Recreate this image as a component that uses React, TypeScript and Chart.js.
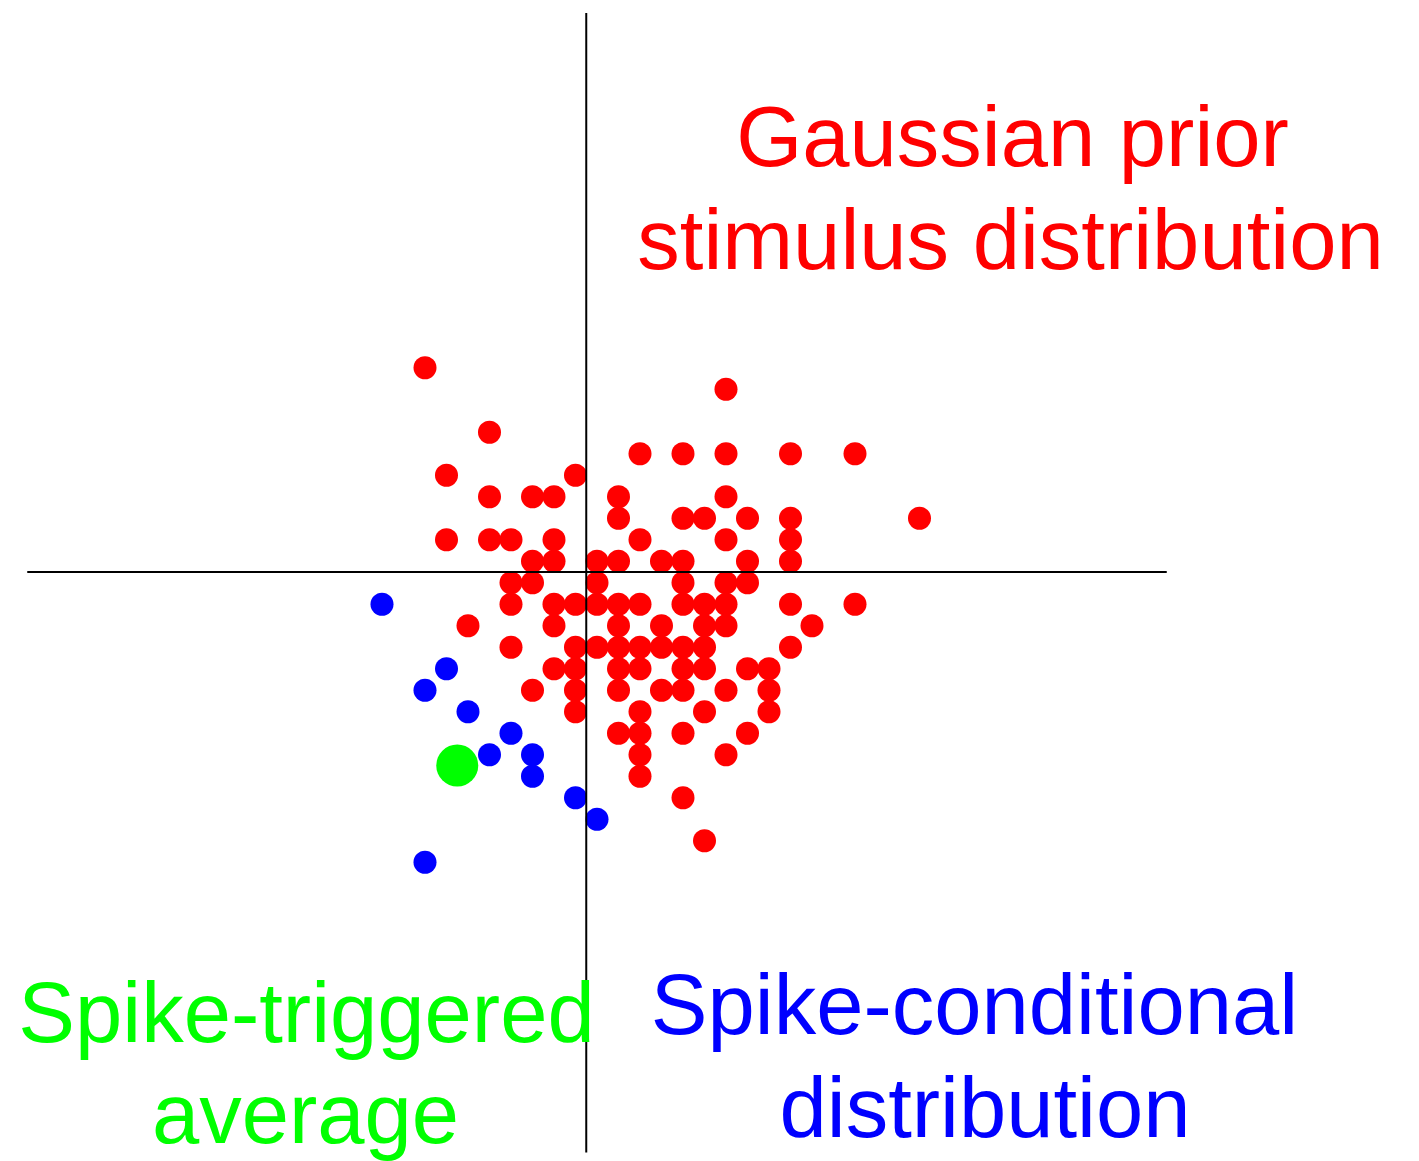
import React, { useEffect, useRef } from "react";
import { Chart, registerables } from "chart.js";

Chart.register(...registerables);

// ---- data (grid units) ----
const redPoints: [number, number][] = [
  [-7.5, 9.5],
  [6.5, 8.5],
  [-4.5, 6.5],
  [2.5, 5.5], [4.5, 5.5], [6.5, 5.5], [9.5, 5.5], [12.5, 5.5],
  [-6.5, 4.5], [-0.5, 4.5],
  [-4.5, 3.5], [-2.5, 3.5], [-1.5, 3.5], [1.5, 3.5], [6.5, 3.5],
  [1.5, 2.5], [4.5, 2.5], [5.5, 2.5], [7.5, 2.5], [9.5, 2.5], [15.5, 2.5],
  [-6.5, 1.5], [-4.5, 1.5], [-3.5, 1.5], [-1.5, 1.5], [2.5, 1.5], [6.5, 1.5], [9.5, 1.5],
  [-2.5, 0.5], [-1.5, 0.5], [0.5, 0.5], [1.5, 0.5], [3.5, 0.5], [4.5, 0.5], [7.5, 0.5], [9.5, 0.5],
  [-3.5, -0.5], [-2.5, -0.5], [0.5, -0.5], [4.5, -0.5], [6.5, -0.5], [7.5, -0.5],
  [-3.5, -1.5], [-1.5, -1.5], [-0.5, -1.5], [0.5, -1.5], [1.5, -1.5], [2.5, -1.5], [4.5, -1.5], [5.5, -1.5], [6.5, -1.5], [9.5, -1.5], [12.5, -1.5],
  [-5.5, -2.5], [-1.5, -2.5], [1.5, -2.5], [3.5, -2.5], [5.5, -2.5], [6.5, -2.5], [10.5, -2.5],
  [-3.5, -3.5], [-0.5, -3.5], [0.5, -3.5], [1.5, -3.5], [2.5, -3.5], [3.5, -3.5], [4.5, -3.5], [5.5, -3.5], [9.5, -3.5],
  [-1.5, -4.5], [-0.5, -4.5], [1.5, -4.5], [2.5, -4.5], [4.5, -4.5], [5.5, -4.5], [7.5, -4.5], [8.5, -4.5],
  [-2.5, -5.5], [-0.5, -5.5], [1.5, -5.5], [3.5, -5.5], [4.5, -5.5], [6.5, -5.5], [8.5, -5.5],
  [-0.5, -6.5], [2.5, -6.5], [5.5, -6.5], [8.5, -6.5],
  [1.5, -7.5], [2.5, -7.5], [4.5, -7.5], [7.5, -7.5],
  [2.5, -8.5], [6.5, -8.5],
  [2.5, -9.5],
  [4.5, -10.5],
  [5.5, -12.5],
];

const bluePoints: [number, number][] = [
  [-9.5, -1.5],
  [-6.5, -4.5],
  [-7.5, -5.5],
  [-5.5, -6.5],
  [-3.5, -7.5],
  [-4.5, -8.5], [-2.5, -8.5],
  [-2.5, -9.5],
  [-0.5, -10.5],
  [0.5, -11.5],
  [-7.5, -13.5],
];

const greenPoints: [number, number][] = [[-6, -9]];

const axisXExtent = [-26, 27];
const axisYExtent = [-27, 26];

const labelsRed = ["Gaussian prior", "stimulus distribution"];
const labelsBlue = ["Spike-conditional", "distribution"];
const labelsGreen = ["Spike-triggered", "average"];

// ---- layout / style ----
const W = 1419;
const H = 1161;
const UNIT = 21.5;
const ORIGIN_X = 586.25;
const ORIGIN_Y = 572;

const RED = "#ff0000";
const BLUE = "#0000ff";
const GREEN = "#00ff00";

const FONT = "'Liberation Sans', Arial, Helvetica, sans-serif";
const FONT_SIZE = 85;
const LINE_H = 103;
const BASELINE_OFFSET = 81; // baseline distance from top of a line box

type Lbl = { text: string; color: string; cx: number; baseline: number };
const labelItems: Lbl[] = [
  { text: labelsRed[0], color: RED, cx: 1012.5, baseline: 166 },
  { text: labelsRed[1], color: RED, cx: 1010.5, baseline: 269 },
  { text: labelsBlue[0], color: BLUE, cx: 974.5, baseline: 1034 },
  { text: labelsBlue[1], color: BLUE, cx: 985, baseline: 1137 },
  { text: labelsGreen[0], color: GREEN, cx: 306.5, baseline: 1042 },
  { text: labelsGreen[1], color: GREEN, cx: 305.5, baseline: 1143 },
];

const toXY = (p: [number, number]) => ({ x: p[0], y: p[1] });

export default function App() {
  const canvasRef = useRef<HTMLCanvasElement | null>(null);

  useEffect(() => {
    const canvas = canvasRef.current;
    if (!canvas) return;
    const chart = new Chart(canvas, {
      type: "scatter",
      data: {
        datasets: [
          {
            label: "x-axis",
            data: axisXExtent.map((x) => ({ x, y: 0 })),
            showLine: true,
            borderColor: "#000000",
            borderWidth: 2,
            pointRadius: 0,
            pointHoverRadius: 0,
            fill: false,
          } as any,
          {
            label: "y-axis",
            data: axisYExtent.map((y) => ({ x: 0, y })),
            showLine: true,
            borderColor: "#000000",
            borderWidth: 2,
            pointRadius: 0,
            pointHoverRadius: 0,
            fill: false,
          } as any,
          {
            label: "green",
            data: greenPoints.map(toXY),
            backgroundColor: GREEN,
            pointBackgroundColor: GREEN,
            pointBorderWidth: 0,
            borderWidth: 0,
            pointRadius: 21,
            pointHoverRadius: 21,
          } as any,
          {
            label: "blue",
            data: bluePoints.map(toXY),
            backgroundColor: BLUE,
            pointBackgroundColor: BLUE,
            pointBorderWidth: 0,
            borderWidth: 0,
            pointRadius: 11.5,
            pointHoverRadius: 11.5,
          } as any,
          {
            label: "red",
            data: redPoints.map(toXY),
            backgroundColor: RED,
            pointBackgroundColor: RED,
            pointBorderWidth: 0,
            borderWidth: 0,
            pointRadius: 11.5,
            pointHoverRadius: 11.5,
          } as any,
        ],
      },
      options: {
        responsive: false,
        animation: false,
        events: [],
        layout: { padding: 0, autoPadding: false } as any,
        plugins: {
          legend: { display: false },
          tooltip: { enabled: false },
          title: { display: false },
        },
        scales: {
          x: {
            type: "linear",
            display: false,
            min: -ORIGIN_X / UNIT,
            max: (W - ORIGIN_X) / UNIT,
          },
          y: {
            type: "linear",
            display: false,
            min: -(H - ORIGIN_Y) / UNIT,
            max: ORIGIN_Y / UNIT,
          },
        },
      },
    });
    return () => chart.destroy();
  }, []);

  return (
    <div
      style={{
        position: "absolute",
        left: 0,
        top: 0,
        width: W,
        height: H,
        background: "#ffffff",
        overflow: "hidden",
      }}
    >
      <canvas
        ref={canvasRef}
        width={W}
        height={H}
        style={{ display: "block", width: W, height: H }}
      />
      {labelItems.map((l, i) => (
        <div
          key={i}
          style={{
            position: "absolute",
            left: l.cx - 600,
            width: 1200,
            top: l.baseline - BASELINE_OFFSET,
            height: LINE_H,
            lineHeight: LINE_H + "px",
            fontFamily: FONT,
            fontSize: FONT_SIZE,
            color: l.color,
            textAlign: "center",
            whiteSpace: "nowrap",
            pointerEvents: "none",
          }}
        >
          {l.text}
        </div>
      ))}
    </div>
  );
}
